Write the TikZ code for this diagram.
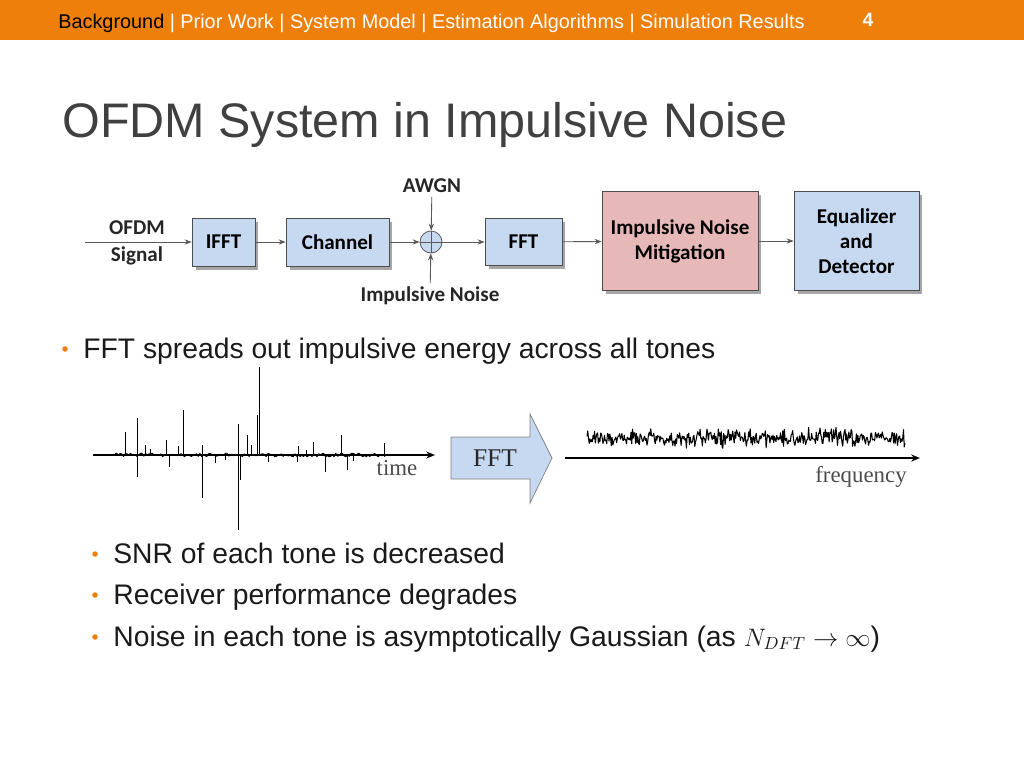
\documentclass[tikz,border=0pt]{standalone}
\usepackage{fontspec}
\setmainfont{Liberation Sans}
\newfontfamily\blkfont{Carlito}
\newfontfamily\plotfont{Liberation Serif}
\usepackage{xcolor}
\usepackage{tikz}
\usetikzlibrary{arrows.meta,positioning,shadows}
\definecolor{hdrorange}{RGB}{238,127,11}
\definecolor{titlegray}{RGB}{64,64,64}
\definecolor{bodytext}{RGB}{26,26,26}
\definecolor{blkblue}{RGB}{198,217,241}
\definecolor{blkpink}{RGB}{230,185,184}
\definecolor{linegray}{RGB}{89,89,89}

\begin{document}
\begin{tikzpicture}[
  x=0.02cm,y=-0.02cm,
  every node/.style={inner sep=0pt},
  blk/.style={draw=black!70,fill=blkblue,align=center,
              font=\blkfont\bfseries\fontsize{12}{14.2}\selectfont,
              drop shadow={shadow xshift=0.7mm,shadow yshift=-0.7mm,fill=black!35,opacity=1}},
  lbl/.style={inner sep=2pt,align=center,text=black!85,
              font=\blkfont\bfseries\fontsize{12}{14.2}\selectfont},
  sig/.style={-{Stealth[length=4pt,width=3pt]},draw=linegray,line width=0.5pt},
  ax/.style={-{Stealth[length=5pt,width=4pt]},line width=1pt},
  spike/.style={line width=0.5pt,line join=round},
  plotlbl/.style={text=black!70,font=\plotfont\fontsize{13}{15}\selectfont},
  bul/.style={circle,fill=hdrorange,minimum size=1.1mm},
  body/.style={anchor=base west,text=bodytext,font=\fontsize{16.1}{19}\selectfont},
]
\useasboundingbox (0,0) rectangle (1024,768);

% header bar
\fill[hdrorange] (0,0) rectangle (1024,40);
\node[anchor=base west,font=\fontsize{11.3}{13}\selectfont] (nav) at (58,28)
  {Background \textcolor{white}{| Prior Work | System Model | Estimation Algorithms | Simulation Results}};
\node[anchor=base,text=white,font=\bfseries\fontsize{11}{13}\selectfont] (pg) at (868,26) {4};

\node[anchor=base west,text=titlegray,font=\fontsize{27.6}{33}\selectfont] (title) at (62,137)
  {OFDM System in Impulsive Noise};

% block diagram
\coordinate (in) at (85,242);
\node[lbl,font=\blkfont\bfseries\fontsize{12}{15.5}\selectfont] (src) at (137,243) {OFDM\\Signal};
\node[blk,minimum width=1.26cm,minimum height=0.96cm] (ifft) at (223.5,242) {IFFT};
\node[blk,minimum width=2.06cm,minimum height=0.96cm] (chan) at (337.5,242) {Channel};
\node[circle,draw=black!70,fill=blkblue,minimum size=0.44cm] (sum) at (431,242) {};
\draw[linegray,line width=0.4pt] (sum.north) -- (sum.south) (sum.west) -- (sum.east);
\node[lbl] (awgn) at (432,186) {AWGN};
\node[lbl] (imp) at (430,296) {Impulsive Noise};
\node[blk,minimum width=1.54cm,minimum height=0.94cm] (fft) at (523.5,242) {FFT};
\node[blk,fill=blkpink,minimum width=3.12cm,minimum height=1.98cm] (mit) at (680,241)
  {Impulsive Noise\\Mitigation};
\node[blk,minimum width=2.5cm,minimum height=1.98cm] (eq) at (856.5,241)
  {Equalizer\\and\\Detector};

\draw[sig] (in) -- (ifft);
\draw[sig] (ifft) -- (chan);
\draw[sig] (chan) -- (sum);
\draw[sig] (awgn) -- (sum);
\draw[sig] (imp) -- (sum);
\draw[sig] (sum) -- (fft);
\draw[sig] (fft) -- (mit);
\draw[sig] (mit) -- (eq);

% bullets
\node[bul] (d1) at (65,349) {};
\node[body] (b1) at (83,358) {FFT spreads out impulsive energy across all tones};
\node[bul] (d2) at (95,554) {};
\node[body] (b2) at (113,563) {SNR of each tone is decreased};
\node[bul] (d3) at (95,595) {};
\node[body] (b3) at (113,604) {Receiver performance degrades};
\node[bul] (d4) at (95,637) {};
\node[body] (b4) at (113,646)
  {Noise in each tone is asymptotically Gaussian (as {\fontsize{14.5}{17}\selectfont$N_{DFT}\rightarrow\infty$})};

% time domain
\pgfmathsetseed{17}
\coordinate (t0) at (93,455);
\coordinate (t1) at (435,455);
\draw[spike] plot[domain=115:385,samples=160] (\x,{455+1.8*rand});
\foreach \px/\py in {125/432,137/418,145/445,150/449,166/440,178/446,183/410,202/445,
                     238/424,247/435,251/445,257/415,259/367,298/446,306/450,313/442,
                     341/435,384/443,
                     137/477,169/467,202/498,215/463,225/460,238/530,240/480,
                     268/462,297/462,325/472,347/470,353/461}
  \draw[spike] (\px,455) -- (\px,\py);
\draw[ax] (t0) -- (t1);
\node[plotlbl] (tlab) at (397,468) {time};

% FFT arrow
\draw[draw=black!50,fill=blkblue] (451,437) -- (530,437) -- (530,414) -- (552,458)
  -- (530,503) -- (530,479) -- (451,479) -- cycle;
\node[text=black!85,font=\plotfont\fontsize{14.5}{17}\selectfont] (fftlbl) at (495,458) {FFT};

% frequency domain
\coordinate (f0) at (565,458);
\coordinate (f1) at (920,458);
\draw[spike,line width=0.6pt] plot[domain=587:905,samples=420] (\x,{438+5.5*(rand+rand)});
\draw[ax] (f0) -- (f1);
\node[plotlbl] (flab) at (861,477) {frequency};
\end{tikzpicture}
\end{document}
